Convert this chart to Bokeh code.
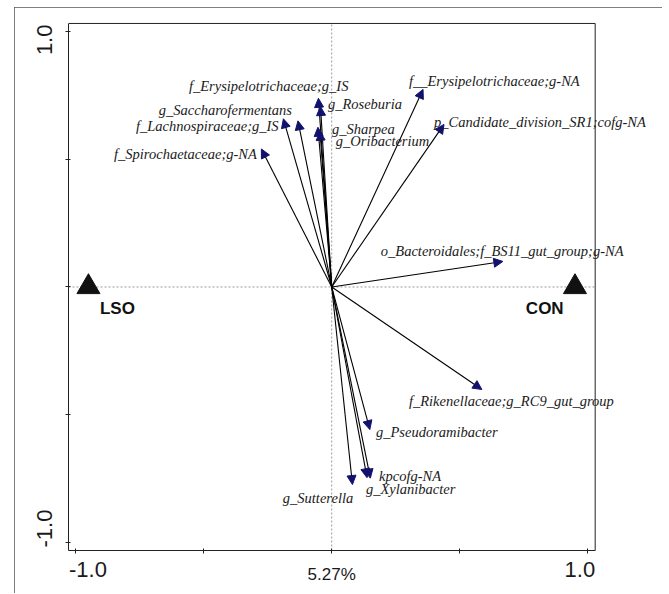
from bokeh.plotting import figure
from bokeh.models import (Range1d, FixedTicker, Arrow, NormalHead, LabelSet,
                          ColumnDataSource, LinearAxis)
from bokeh.core.properties import value
from bokeh.embed import file_html
from bokeh.resources import INLINE

# ---------------- data ----------------
taxa = [
    "f_Erysipelotrichaceae;g_IS",
    "g_Roseburia",
    "g_Sharpea",
    "g_Oribacterium",
    "g_Saccharofermentans",
    "f_Lachnospiraceae;g_IS",
    "f_Spirochaetaceae;g-NA",
    "f__Erysipelotrichaceae;g-NA",
    "p_Candidate_division_SR1;cofg-NA",
    "o_Bacteroidales;f_BS11_gut_group;g-NA",
    "f_Rikenellaceae;g_RC9_gut_group",
    "g_Pseudoramibacter",
    "kpcofg-NA",
    "g_Xylanibacter",
    "g_Sutterella",
]
rda1 = [-0.052, -0.044, -0.054, -0.046, -0.189, -0.132, -0.275, 0.357, 0.439,
        0.669, 0.587, 0.149, 0.151, 0.138, 0.081]
rda2 = [0.738, 0.706, 0.625, 0.609, 0.658, 0.650, 0.540, 0.773, 0.636,
        0.100, -0.401, -0.558, -0.748, -0.746, -0.773]
# label anchor (left edge, vertical middle) for each taxon
label_x = [-0.558, -0.015, 0.001, 0.016, -0.676, -0.765, -0.851, 0.302, 0.400,
           0.192, 0.302, 0.173, 0.185, 0.134, -0.191]
label_y = [0.785, 0.714, 0.620, 0.573, 0.691, 0.628, 0.519, 0.804, 0.644,
           0.139, -0.448, -0.566, -0.738, -0.789, -0.824]

groups = ["LSO", "CON"]
group_x = [-0.951, 0.951]
group_y = [0.0, 0.0]
group_label_x = [-0.906, 0.759]
group_label_y = [-0.086, -0.086]

ticks = [-1, -0.5, 0, 0.5, 1]
blank_labels = {-1: "", -0.5: "", 0: "", 0.5: "", 1: ""}
# tick labels are drawn pulled inside the plotting box, as in the original
x_label_pos = [-0.953, 0.97]
x_label_text = {-0.953: "-1.0", 0.97: "1.0"}
y_label_pos = [-0.945, 0.967]
y_label_text = {-0.945: "-1.0", 0.967: "1.0"}
x_title = "5.27%"

# plotting box limits
XLO, XHI = -1.029, 1.030
YLO, YHI = -1.031, 1.031

# ---------------- figure ----------------
p = figure(width=648, height=587,
           x_range=Range1d(XLO, 1.2306), y_range=Range1d(YLO, 1.0426),
           output_backend="svg", toolbar_location=None,
           min_border_left=54, min_border_right=16, min_border_top=13,
           min_border_bottom=44, margin=(7, 0, 0, 14))
p.styles = {"outline": "1px solid #555555", "outline-offset": "-1px",
            "clip-path": "inset(0px 0px 1px 0px)"}
p.background_fill_color = "white"
p.border_fill_color = "white"
p.xgrid.visible = False
p.ygrid.visible = False
p.outline_line_color = None

# axes carrying the line and tick marks
for ax in (p.xaxis[0], p.yaxis[0]):
    ax.ticker = FixedTicker(ticks=ticks)
    ax.major_label_overrides = blank_labels
    ax.major_label_text_font_size = "1px"
    ax.major_label_standoff = 0
    ax.axis_line_color = "#222222"
    ax.major_tick_line_color = "#222222"
    ax.minor_tick_line_color = None
    ax.major_tick_in = 2
    ax.major_tick_out = 3
p.xaxis[0].bounds = (XLO, XHI)
p.yaxis[0].bounds = (YLO, YHI)


def label_axis(pos, text, size, standoff, **kw):
    return LinearAxis(ticker=FixedTicker(ticks=pos), major_label_overrides=text,
                      axis_line_color=None, major_tick_line_color=None,
                      minor_tick_line_color=None, major_tick_in=0, major_tick_out=0,
                      minor_tick_in=0, minor_tick_out=0,
                      major_label_standoff=standoff,
                      major_label_text_font="Liberation Sans",
                      major_label_text_font_size=size,
                      major_label_text_color="#1a1a1a", **kw)


p.add_layout(label_axis(x_label_pos, x_label_text, "22px", 8), "below")
p.add_layout(label_axis([0], {0: x_title}, "17px", -15), "below")
p.add_layout(label_axis(y_label_pos, y_label_text, "22px", 13,
                        major_label_orientation="vertical"), "left")

# top and right edges of the plotting box
p.segment(x0=[XLO, XHI], y0=[YHI, YLO], x1=[XHI, XHI], y1=[YHI, YHI],
          line_color="#222222", line_width=1)

# dotted cross through origin
p.segment(x0=[0, XLO], y0=[YLO, 0], x1=[0, XHI], y1=[YHI, 0],
          line_color="#9a9a9a", line_dash="2 2", line_width=1)

# arrows
src = ColumnDataSource(dict(x0=[0.0] * len(taxa), y0=[0.0] * len(taxa),
                            x=rda1, y=rda2))
head = NormalHead(size=9, fill_color="#12126e", line_color="#12126e", line_width=1)
p.add_layout(Arrow(end=head, x_start="x0", y_start="y0", x_end="x", y_end="y",
                   source=src, line_color="black", line_width=1.1))

# taxon labels
lsrc = ColumnDataSource(dict(lx=label_x, ly=label_y, name=taxa))
p.add_layout(LabelSet(x="lx", y="ly", text="name", source=lsrc,
                      text_font=value("Liberation Serif"), text_font_style="italic",
                      text_font_size="14.5px", text_color="#1a1a1a",
                      text_align="left", text_baseline="middle"))

# group centroids
p.scatter(group_x, group_y, marker="triangle", size=23, color="#111111")
p.text(group_label_x, group_label_y, text=groups, text_font=value("Liberation Sans"),
       text_font_style="bold", text_font_size="17px", text_color="#111111",
       text_align="left", text_baseline="middle")

open("out.html", "w").write(file_html(p, INLINE))
